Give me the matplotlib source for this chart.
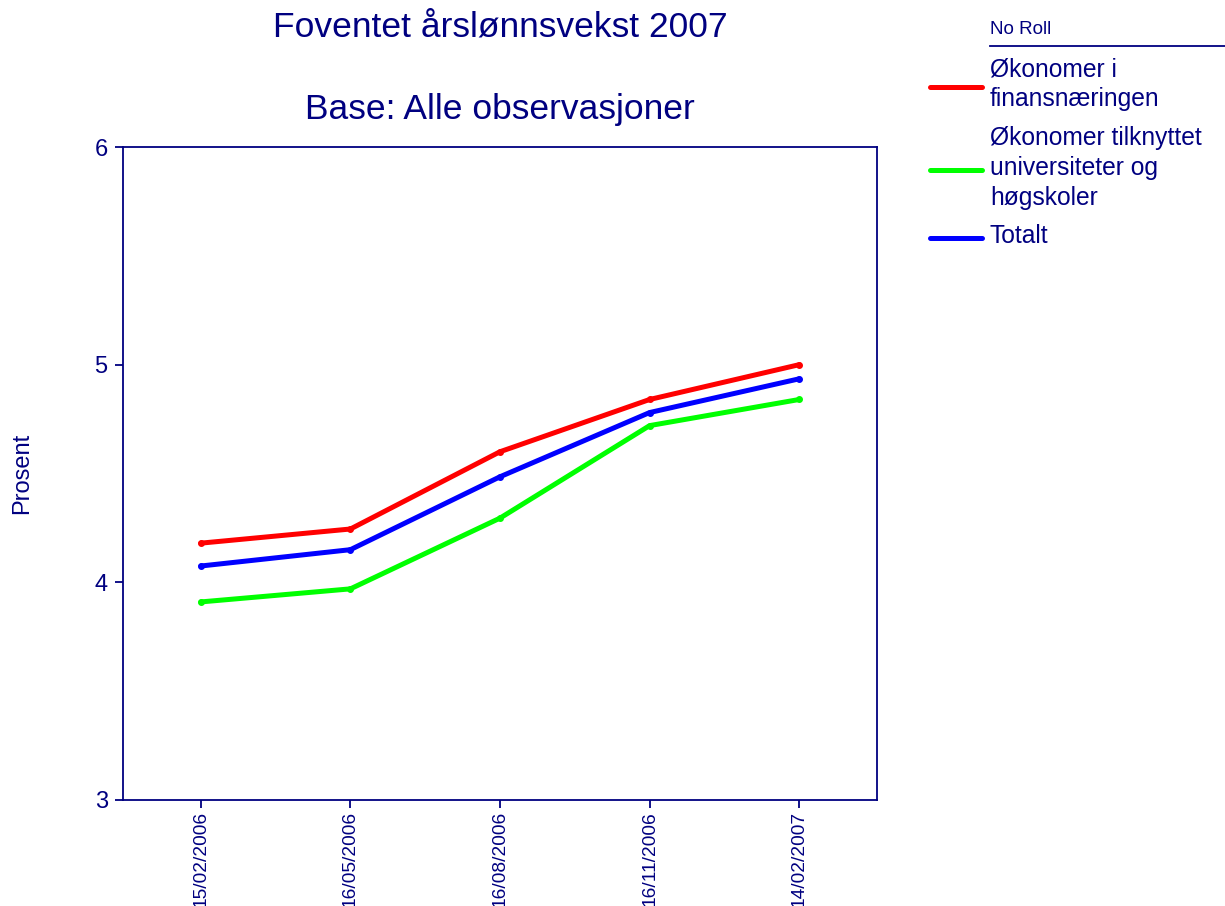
import matplotlib
matplotlib.use("Agg")
import matplotlib.pyplot as plt
from matplotlib.lines import Line2D

plt.rcParams["font.family"] = ["Liberation Sans", "DejaVu Sans"]

dates = ["15/02/2006", "16/05/2006", "16/08/2006", "16/11/2006", "14/02/2007"]
finans = [4.18, 4.245, 4.60, 4.84, 5.00]
univ = [3.91, 3.97, 4.295, 4.72, 4.84]
totalt = [4.075, 4.15, 4.485, 4.78, 4.935]

labels = ["Økonomer i\nfinansnæringen",
          "Økonomer tilknyttet\nuniversiteter og\nhøgskoler",
          "Totalt"]
colors = ["#ff0000", "#00ff00", "#0000ff"]
navy = "#000080"

fig = plt.figure(figsize=(12.25, 9.06), dpi=100)
ax = fig.add_axes([123 / 1225, 1 - 800 / 906, 754 / 1225, 653 / 906])

x = list(range(len(dates)))
for vals, c in zip([finans, univ, totalt], colors):
    ax.plot(x, vals, color=c, linewidth=3.6, marker="o", markersize=4,
            solid_capstyle="round")

ax.set_xlim(-0.52, 4.52)
ax.set_ylim(3, 6)
ax.set_yticks([3, 4, 5, 6])
ax.set_xticks(x)
ax.set_xticklabels(dates, rotation=90, va="top", ha="center")
for s in ax.spines.values():
    s.set_color(navy)
    s.set_linewidth(1.3)
ax.tick_params(colors=navy, length=6, width=1.3, direction="out")
ax.tick_params(axis="y", labelsize=17, pad=5)
ax.tick_params(axis="x", labelsize=13.8, pad=2)

fig.text(500 / 1225, 1 - 27 / 906, "Foventet årslønnsvekst 2007",
         ha="center", va="center", fontsize=25.5, color=navy)
fig.text(500 / 1225, 1 - 110 / 906, "Base: Alle observasjoner",
         ha="center", va="center", fontsize=25.5, color=navy)
fig.text(22 / 1225, 1 - 473 / 906, "Prosent", rotation=90,
         ha="center", va="center", fontsize=17, color=navy)

# legend drawn by hand
fig.text(990 / 1225, 1 - 29 / 906, "No Roll", ha="left", va="center",
         fontsize=13.5, color=navy)
fig.add_artist(Line2D([990 / 1225, 1.0], [1 - 46 / 906, 1 - 46 / 906],
                      color=navy, linewidth=1.3, transform=fig.transFigure))
line_y = [87, 170, 238]
text_y = [84, 168, 236]
for lab, c, ly, ty in zip(labels, colors, line_y, text_y):
    fig.add_artist(Line2D([930 / 1225, 982 / 1225], [1 - ly / 906, 1 - ly / 906],
                          color=c, linewidth=3.6, solid_capstyle="round",
                          transform=fig.transFigure))
    fig.text(990 / 1225, 1 - ty / 906, lab, ha="left", va="center",
             fontsize=17.7, color=navy, linespacing=1.3)

fig.savefig("out.png", dpi=100)
